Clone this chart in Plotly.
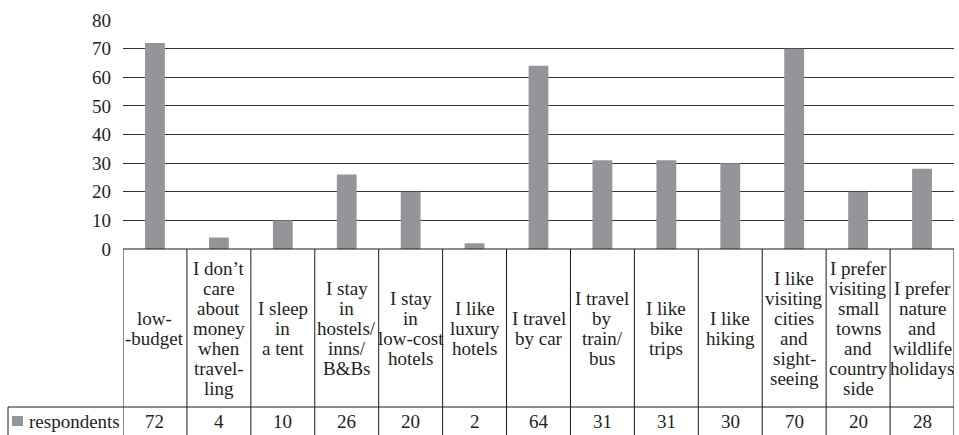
import plotly.graph_objects as go

categories = [
    "low-\n-budget",
    "I don\u2019t\ncare\nabout\nmoney\nwhen\ntravel-\nling",
    "I sleep\nin\na tent",
    "I stay\nin\nhostels/\ninns/\nB&amp;Bs",
    "I stay\nin\nlow-cost\nhotels",
    "I like\nluxury\nhotels",
    "I travel\nby car",
    "I travel\nby\ntrain/\nbus",
    "I like\nbike\ntrips",
    "I like\nhiking",
    "I like\nvisiting\ncities\nand\nsight-\nseeing",
    "I prefer\nvisiting\nsmall\ntowns\nand\ncountry\nside",
    "I prefer\nnature\nand\nwildlife\nholidays",
]
respondents = [72, 4, 10, 26, 20, 2, 64, 31, 31, 30, 70, 20, 28]
series_name = "respondents"
y_ticks = [0, 10, 20, 30, 40, 50, 60, 70, 80]

W, H = 959, 435
BAR = "#939598"
TXT = "#231f20"
FONT = "Liberation Serif"

def py(p):
    # pixel row -> paper y
    return 1 - p / H

n = len(categories)
xs = list(range(n))

fig = go.Figure()
fig.add_trace(go.Bar(x=xs, y=respondents, name=series_name, marker_color=BAR,
                     marker_line_width=0, width=0.31, showlegend=False))

annotations = []
shapes = []

# category row of the data table
row_mid = 328
line_h = 20
for i, label in enumerate(categories):
    lines = label.split("\n")
    for k, ln in enumerate(lines):
        yp = row_mid + (k - (len(lines) - 1) / 2) * line_h
        annotations.append(dict(x=i, xref="x", y=py(yp), yref="paper", text=ln,
                                showarrow=False, xanchor="center", yanchor="middle",
                                font=dict(family=FONT, size=19, color=TXT)))

# value row
for i, v in enumerate(respondents):
    annotations.append(dict(x=i, xref="x", y=py(421), yref="paper", text=str(v),
                            showarrow=False, xanchor="center", yanchor="middle",
                            font=dict(family=FONT, size=19, color=TXT)))

annotations.append(dict(x=27 / W, xref="paper", y=py(421), yref="paper", text=series_name,
                        showarrow=False, xanchor="left", yanchor="middle",
                        font=dict(family=FONT, size=19, color=TXT)))

line = dict(color="#1a1a1a", width=1)
shapes.append(dict(type="line", xref="x", x0=-0.5, x1=n - 0.5, yref="paper",
                   y0=py(249), y1=py(249), line=line))
for i in range(n + 1):
    shapes.append(dict(type="line", xref="x", x0=i - 0.5, x1=i - 0.5, yref="paper",
                       y0=py(249), y1=0, line=line))
shapes.append(dict(type="line", xref="paper", x0=8 / W, x1=954 / W, yref="paper",
                   y0=py(407), y1=py(407), line=line))
shapes.append(dict(type="line", xref="paper", x0=8 / W, x1=8 / W, yref="paper",
                   y0=py(407), y1=0, line=line))
# legend key
shapes.append(dict(type="rect", xref="paper", x0=12 / W, x1=23 / W, yref="paper",
                   y0=py(426), y1=py(416), fillcolor=BAR, line=dict(width=0)))

fig.update_layout(
    width=W, height=H, margin=dict(l=0, r=0, t=0, b=0),
    plot_bgcolor="white", paper_bgcolor="white",
    xaxis=dict(visible=False, range=[-0.5, n - 0.5], domain=[123 / W, 954 / W],
               automargin=False),
    yaxis=dict(range=[0, 80], domain=[py(249), py(20)], tickvals=y_ticks,
               showgrid=True, gridcolor="#333333", gridwidth=1, zeroline=False,
               showline=False, ticks="", ticklabelstandoff=11, automargin=False,
               tickfont=dict(family=FONT, size=19, color=TXT)),
    annotations=annotations, shapes=shapes, bargap=0.7,
)

# page has a default 8px body margin; drop it so the figure sits at 0,0
fig.write_html("out.html", config={"displayModeBar": False},
               post_script="document.body.style.margin='0';")
